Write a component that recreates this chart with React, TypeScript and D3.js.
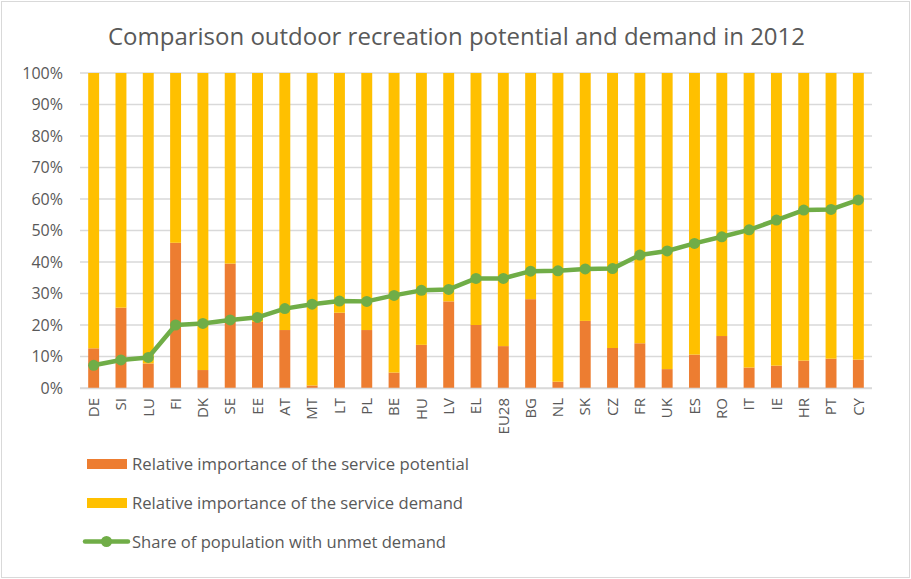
import React from "react";
import * as d3 from "d3";

const categories = ["DE","SI","LU","FI","DK","SE","EE","AT","MT","LT","PL","BE","HU","LV","EL","EU28","BG","NL","SK","CZ","FR","UK","ES","RO","IT","IE","HR","PT","CY"];
const potential = [12.6,25.5,7.8,46.1,5.7,39.5,21,18.4,0.8,23.9,18.4,4.9,13.7,27.5,20,13.3,28.2,2,21.3,12.7,14.2,6,10.6,16.5,6.5,7.1,8.7,9.3,9];
const unmet = [7.2,8.9,9.7,20,20.5,21.6,22.4,25.2,26.6,27.6,27.5,29.4,31,31.3,34.8,34.8,37.1,37.2,37.8,37.9,42.2,43.5,45.9,48,50.2,53.3,56.5,56.7,59.7];
const demand = potential.map((p) => 100 - p);
const yTicks = [0,10,20,30,40,50,60,70,80,90,100];
const legendLabels = [
  "Relative importance of the service potential",
  "Relative importance of the service demand",
  "Share of population with unmet demand",
];
const title = "Comparison outdoor recreation potential and demand in 2012";

const W = 911, H = 579;
const left = 80, right = 872, top = 73, bottom = 388;
const ORANGE = "#ed7d31", YELLOW = "#ffc000", GREEN = "#70ad47", TEXT = "#595959", GRID = "#d9d9d9";
const FONT = "'Open Sans', 'Liberation Sans', sans-serif";

export default function App() {
  const x = d3.scaleBand<string>().domain(categories).range([left, right]).paddingInner(0.6).paddingOuter(0.3);
  const y = d3.scaleLinear().domain([0, 100]).range([bottom, top]);
  const cx = (c: string) => (x(c) as number) + x.bandwidth() / 2;
  const line = d3.line<number>().x((_, i) => cx(categories[i])).y((d) => y(d));

  return (
    <svg width={W} height={H} style={{ position: "absolute", left: 0, top: 0, background: "#fff" }} fontFamily={FONT}>
      <rect x={1.5} y={1.5} width={W - 3} height={H - 3} fill="#fff" stroke={GRID} strokeWidth={1} />
      <text x={456.5} y={45} textAnchor="middle" fontSize={23} fill={TEXT} textLength={697} lengthAdjust="spacingAndGlyphs">{title}</text>
      {yTicks.map((t) => (
        <g key={t}>
          <line x1={left} x2={right} y1={y(t)} y2={y(t)} stroke={GRID} strokeWidth={1.3} />
          <text x={63} y={y(t)} dy="0.35em" textAnchor="end" fontSize={16} fill={TEXT}>{t}%</text>
        </g>
      ))}
      {categories.map((c, i) => (
        <g key={c}>
          <rect x={x(c)} width={x.bandwidth()} y={y(potential[i])} height={y(0) - y(potential[i])} fill={ORANGE} />
          <rect x={x(c)} width={x.bandwidth()} y={y(potential[i] + demand[i])} height={y(potential[i]) - y(potential[i] + demand[i])} fill={YELLOW} />
          <text transform={`translate(${cx(c)},398) rotate(-90)`} textAnchor="end" dy="0.35em" fontSize={15} fill={TEXT}>{c}</text>
        </g>
      ))}
      <line x1={left} x2={right} y1={bottom + 0.5} y2={bottom + 0.5} stroke={GRID} strokeWidth={1.5} />
      <path d={line(unmet) || ""} fill="none" stroke={GREEN} strokeWidth={4.5} strokeLinejoin="round" strokeLinecap="round" />
      {unmet.map((v, i) => (
        <circle key={i} cx={cx(categories[i])} cy={y(v)} r={5.5} fill={GREEN} />
      ))}
      <g>
        <rect x={87} y={459} width={40} height={10} fill={ORANGE} />
        <text x={132} y={464} dy="0.35em" fontSize={16} fill={TEXT} textLength={337} lengthAdjust="spacingAndGlyphs">{legendLabels[0]}</text>
        <rect x={87} y={498} width={40} height={10} fill={YELLOW} />
        <text x={132} y={503} dy="0.35em" fontSize={16} fill={TEXT} textLength={331} lengthAdjust="spacingAndGlyphs">{legendLabels[1]}</text>
        <line x1={85} x2={128} y1={541.5} y2={541.5} stroke={GREEN} strokeWidth={4.5} strokeLinecap="round" />
        <circle cx={106.5} cy={541.5} r={5.5} fill={GREEN} />
        <text x={132} y={542} dy="0.35em" fontSize={16} fill={TEXT} textLength={314} lengthAdjust="spacingAndGlyphs">{legendLabels[2]}</text>
      </g>
    </svg>
  );
}
